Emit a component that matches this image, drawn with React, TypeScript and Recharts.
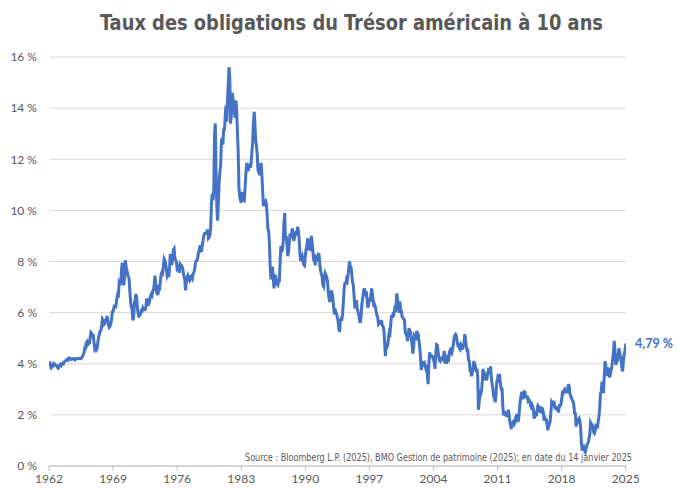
import React from 'react';
import { LineChart, Line, XAxis, YAxis, CartesianGrid } from 'recharts';

// Taux mensuels approximatifs (%), de janvier de la première année à décembre de la dernière
const rates1962to1969 = [
	4.08, 4.04, 3.93, 3.84, 3.87, 3.91, 4.01, 3.98, 3.98, 3.93, 3.92, 3.86,
	3.83, 3.92, 3.93, 3.97, 3.93, 3.99, 4.02, 4.0, 4.08, 4.11, 4.12, 4.13,
	4.17, 4.15, 4.22, 4.23, 4.2, 4.17, 4.19, 4.19, 4.2, 4.19, 4.15, 4.18,
	4.19, 4.21, 4.21, 4.2, 4.21, 4.21, 4.2, 4.25, 4.29, 4.35, 4.45, 4.62,
	4.61, 4.83, 4.87, 4.75, 4.78, 4.81, 5.02, 5.22, 5.18, 5.01, 5.16, 4.84,
	4.58, 4.63, 4.54, 4.59, 4.85, 5.02, 5.16, 5.28, 5.3, 5.48, 5.75, 5.7,
	5.53, 5.56, 5.74, 5.64, 5.87, 5.72, 5.5, 5.42, 5.46, 5.58, 5.7, 6.03,
	6.04, 6.19, 6.3, 6.17, 6.32, 6.57, 6.72, 6.69, 7.16, 7.1, 7.14, 7.65,
];

const rates1970to1979 = [
	7.95, 7.24, 7.07, 7.39, 8.05, 7.84, 7.46, 7.53, 7.39, 7.33, 6.84, 6.39,
	6.24, 6.11, 5.7, 5.83, 6.39, 6.52, 6.73, 6.58, 6.14, 5.93, 5.81, 5.93,
	5.95, 6.08, 6.07, 6.19, 6.13, 6.11, 6.11, 6.21, 6.55, 6.48, 6.28, 6.36,
	6.46, 6.64, 6.71, 6.67, 6.85, 6.9, 7.13, 7.45, 7.09, 6.79, 6.73, 6.74,
	6.99, 6.96, 7.21, 7.51, 7.58, 7.54, 7.81, 8.1, 8.04, 7.9, 7.68, 7.43,
	7.5, 7.39, 7.73, 8.3, 8.06, 7.86, 8.06, 8.45, 8.5, 8.14, 8.05, 8.0,
	7.74, 7.79, 7.73, 7.56, 7.9, 7.86, 7.83, 7.77, 7.59, 7.41, 7.29, 6.87,
	7.21, 7.39, 7.46, 7.37, 7.46, 7.28, 7.33, 7.4, 7.34, 7.52, 7.58, 7.69,
	7.96, 8.03, 8.04, 8.15, 8.35, 8.46, 8.64, 8.41, 8.42, 8.64, 8.81, 9.01,
	9.1, 9.1, 9.12, 9.18, 9.25, 8.91, 8.95, 9.03, 9.33, 10.3, 10.65, 10.39,
];

const rates1980to1989 = [
	10.8, 12.9, 13.4, 11.47, 10.18, 9.6, 10.25, 11.1, 11.51, 11.75, 12.68, 12.84,
	12.57, 13.19, 13.12, 13.68, 14.1, 13.47, 14.28, 14.94, 15.6, 15.2, 13.39, 13.72,
	14.6, 14.43, 13.86, 13.87, 13.62, 14.3, 13.95, 13.06, 12.34, 10.91, 10.55, 10.4,
	10.3, 10.72, 10.51, 10.4, 10.38, 10.85, 11.38, 11.85, 11.65, 11.54, 11.69, 11.83,
	11.67, 11.84, 12.32, 12.63, 13.41, 13.85, 13.36, 12.72, 12.52, 12.16, 11.57, 11.5,
	11.38, 11.51, 11.86, 11.43, 10.85, 10.16, 10.31, 10.33, 10.37, 10.24, 9.78, 9.26,
	9.19, 8.7, 7.78, 7.3, 7.71, 7.8, 7.3, 6.95, 7.45, 7.43, 7.25, 7.11,
	7.08, 7.25, 7.25, 8.02, 8.61, 8.4, 8.45, 8.76, 9.5, 9.9, 8.86, 8.99,
	8.67, 8.21, 8.37, 8.72, 9.09, 8.92, 9.06, 9.3, 8.98, 8.8, 8.96, 9.11,
	9.09, 9.17, 9.36, 9.18, 8.86, 8.28, 8.02, 8.11, 8.19, 8.01, 7.87, 7.84,
];

const rates1990to1999 = [
	8.21, 8.47, 8.59, 8.9, 8.76, 8.48, 8.47, 8.75, 9.0, 8.72, 8.39, 8.08,
	8.09, 7.85, 8.11, 8.04, 8.07, 8.28, 8.27, 7.9, 7.65, 7.53, 7.42, 7.09,
	7.03, 7.34, 7.54, 7.48, 7.39, 7.26, 6.84, 6.59, 6.42, 6.59, 6.87, 6.77,
	6.6, 6.26, 5.98, 5.97, 6.04, 5.96, 5.81, 5.68, 5.36, 5.25, 5.72, 5.77,
	5.75, 5.97, 6.48, 6.97, 7.18, 7.1, 7.3, 7.24, 7.46, 7.74, 8.0, 7.81,
	7.78, 7.47, 7.2, 7.06, 6.63, 6.17, 6.28, 6.49, 6.2, 6.04, 5.93, 5.71,
	5.6, 5.81, 6.27, 6.51, 6.74, 6.95, 6.87, 6.64, 6.83, 6.53, 6.2, 6.3,
	6.58, 6.42, 6.69, 6.95, 6.71, 6.49, 6.22, 6.3, 6.21, 6.03, 5.88, 5.81,
	5.54, 5.57, 5.65, 5.64, 5.65, 5.5, 5.46, 5.34, 4.81, 4.3, 4.83, 4.65,
	4.72, 5.0, 5.23, 5.18, 5.54, 5.9, 5.79, 5.94, 5.92, 6.11, 6.03, 6.28,
];

const rates2000to2009 = [
	6.75, 6.52, 6.26, 5.99, 6.44, 6.1, 6.05, 5.83, 5.8, 5.74, 5.72, 5.24,
	5.16, 5.1, 4.89, 5.14, 5.39, 5.28, 5.24, 4.97, 4.73, 4.4, 4.65, 5.09,
	5.04, 4.91, 5.28, 5.21, 5.16, 4.93, 4.65, 4.26, 3.75, 3.94, 4.05, 4.03,
	4.05, 3.9, 3.81, 3.96, 3.57, 3.2, 3.98, 4.45, 4.27, 4.29, 4.3, 4.27,
	4.15, 4.08, 3.8, 4.35, 4.75, 4.73, 4.5, 4.28, 4.13, 4.1, 4.19, 4.23,
	4.22, 4.17, 4.5, 4.34, 4.14, 4.0, 4.18, 4.26, 4.2, 4.46, 4.54, 4.47,
	4.42, 4.57, 4.72, 4.99, 5.11, 5.15, 5.09, 4.88, 4.72, 4.73, 4.6, 4.56,
	4.76, 4.72, 4.56, 4.69, 4.75, 5.15, 5.0, 4.67, 4.52, 4.53, 4.15, 4.1,
	3.74, 3.74, 3.51, 3.68, 3.88, 4.1, 4.01, 3.89, 3.69, 3.81, 3.53, 2.2,
	2.52, 2.87, 2.82, 2.93, 3.29, 3.8, 3.56, 3.59, 3.4, 3.39, 3.4, 3.59,
];

const rates2010to2019 = [
	3.73, 3.69, 3.73, 3.9, 3.42, 3.2, 3.01, 2.7, 2.65, 2.5, 2.76, 3.29,
	3.39, 3.6, 3.41, 3.46, 3.17, 3.0, 3.0, 2.3, 1.98, 2.15, 2.01, 1.98,
	1.97, 1.97, 2.2, 2.05, 1.75, 1.62, 1.45, 1.68, 1.72, 1.75, 1.65, 1.72,
	1.91, 1.98, 1.96, 1.72, 1.93, 2.3, 2.58, 2.78, 2.9, 2.62, 2.72, 2.95,
	2.86, 2.71, 2.72, 2.71, 2.56, 2.6, 2.54, 2.42, 2.53, 2.3, 2.33, 2.21,
	1.85, 1.98, 2.04, 1.94, 2.2, 2.36, 2.32, 2.17, 2.17, 2.07, 2.26, 2.24,
	2.09, 1.78, 1.89, 1.81, 1.81, 1.64, 1.4, 1.56, 1.63, 1.76, 2.14, 2.49,
	2.43, 2.42, 2.55, 2.3, 2.3, 2.19, 2.32, 2.21, 2.1, 2.36, 2.35, 2.4,
	2.58, 2.86, 2.84, 2.95, 3.0, 2.91, 2.89, 2.89, 3.0, 3.2, 3.12, 2.83,
	2.71, 2.68, 2.57, 2.53, 2.4, 2.07, 2.06, 1.55, 1.7, 1.71, 1.81, 1.86,
];

const rates2020to2024 = [
	1.76, 1.5, 0.87, 0.66, 0.67, 0.73, 0.6, 0.55, 0.68, 0.79, 0.87, 0.93,
	1.08, 1.26, 1.7, 1.64, 1.62, 1.52, 1.32, 1.28, 1.37, 1.58, 1.56, 1.47,
	1.76, 1.93, 2.3, 2.85, 2.9, 3.3, 2.9, 2.9, 3.6, 4.1, 3.89, 3.62,
	3.53, 3.85, 3.66, 3.46, 3.6, 3.75, 3.9, 4.2, 4.45, 4.9, 4.5, 3.95,
	4.06, 4.25, 4.21, 4.6, 4.48, 4.31, 4.25, 3.87, 3.7, 4.1, 4.36, 4.5,
];

const lastRate = 4.79; // 14 janvier 2025
const yearTicks = [1962, 1969, 1976, 1983, 1990, 1997, 2004, 2011, 2018, 2025];
const percentTicks = [0, 2, 4, 6, 8, 10, 12, 14, 16];

const monthly = [
	...rates1962to1969,
	...rates1970to1979,
	...rates1980to1989,
	...rates1990to1999,
	...rates2000to2009,
	...rates2010to2019,
	...rates2020to2024,
];

const data = monthly
	.map((rate, i) => ({ date: 1962 + i / 12, rate }))
	.concat([{ date: 2025 + 13 / 365, rate: lastRate }]);

const BLUE = '#4472C4';
const GREY = '#595959';
const FONT = 'Lato, "Open Sans", sans-serif';

const renderLastLabel: React.FC<any> = ({ x, y, index }) => {
	if (index !== data.length - 1) return null;
	return (
		<text
			x={x + 9}
			y={y}
			fill={BLUE}
			fontSize={12.5}
			fontWeight="bold"
			fontFamily={FONT}
			dominantBaseline="central"
		>
			{`${lastRate.toFixed(2).replace('.', ',')} %`}
		</text>
	);
};

const App: React.FC = () => (
	<div style={{ position: 'absolute', top: 0, left: 0, width: 678, height: 489, background: '#fff' }}>
		<LineChart width={678} height={489} data={data} margin={{ top: 57, right: 52, bottom: 0, left: 9 }}>
			<CartesianGrid vertical={false} stroke="#d9d9d9" />
			<XAxis
				dataKey="date"
				type="number"
				domain={[1962, 2025 + 13 / 365]}
				ticks={yearTicks}
				height={23}
				stroke="#bfbfbf"
				tickSize={5}
				tickMargin={3}
				tick={{ fill: GREY, fontSize: 12, fontFamily: FONT }}
				allowDataOverflow
			/>
			<YAxis
				domain={[0, 16]}
				ticks={percentTicks}
				width={40}
				axisLine={false}
				tickLine={false}
				tickSize={0}
				tickMargin={12}
				tickFormatter={(v: number) => `${v} %`}
				tick={{ fill: GREY, fontSize: 12, fontFamily: FONT }}
			/>
			<Line
				type="linear"
				dataKey="rate"
				stroke={BLUE}
				strokeWidth={3}
				dot={false}
				label={renderLastLabel}
				isAnimationActive={false}
			/>
		</LineChart>
		<svg width={678} height={489} style={{ position: 'absolute', top: 0, left: 0, pointerEvents: 'none' }}>
			<text
				x={100}
				y={30}
				textLength={503}
				lengthAdjust="spacingAndGlyphs"
				fill={GREY}
				fontSize={22}
				fontWeight="bold"
				fontFamily='"Liberation Sans Narrow", "DejaVu Sans Condensed", Roboto, sans-serif'
			>
				Taux des obligations du Trésor américain à 10 ans
			</text>
			<text
				x={245}
				y={461}
				textLength={387}
				lengthAdjust="spacingAndGlyphs"
				fill={GREY}
				fontSize={10}
				fontFamily='"Liberation Sans Narrow", "DejaVu Sans Condensed", Roboto, sans-serif'
			>
				Source : Bloomberg L.P. (2025), BMO Gestion de patrimoine (2025); en date du 14 janvier 2025
			</text>
		</svg>
	</div>
);

export default App;
